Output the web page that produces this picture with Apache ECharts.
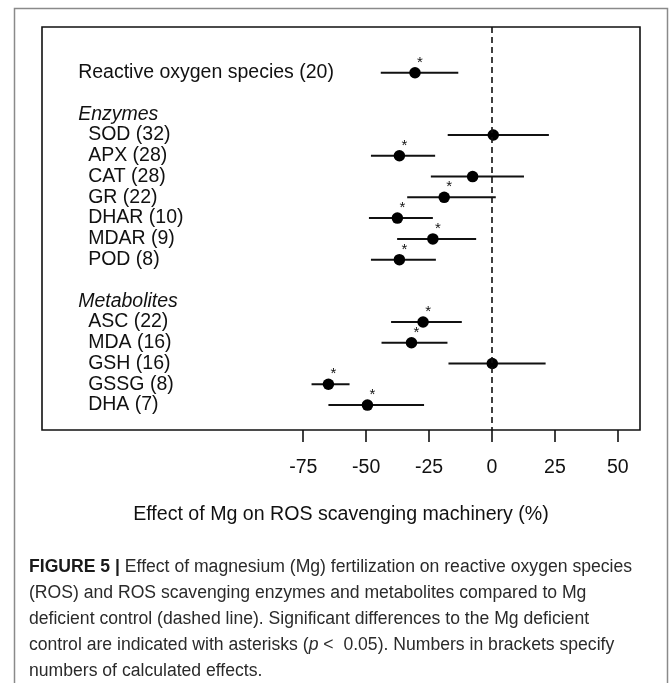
<!DOCTYPE html>
<html><head><meta charset="utf-8">
<script src="https://cdn.jsdelivr.net/npm/echarts@6/dist/echarts.min.js"></script>
<style>html,body{margin:0;padding:0;background:#fff}#c{width:670px;height:683px}</style>
</head><body><div id="c"></div>
<script>
// ---- data ----
const labels = ['Reactive oxygen species (20)', 'SOD (32)', 'APX (28)', 'CAT (28)', 'GR (22)', 'DHAR (10)', 'MDAR (9)', 'POD (8)',
  'ASC (22)', 'MDA (16)', 'GSH (16)', 'GSSG (8)', 'DHA (7)'];
const rows = [0, 3, 4, 5, 6, 7, 8, 9, 12, 13, 14, 15, 16];
const levels = [0, 1, 1, 1, 1, 1, 1, 1, 1, 1, 1, 1, 1];
const estimate = [-30.6, 0.5, -36.8, -7.7, -19.0, -37.6, -23.5, -36.8, -27.4, -32.0, 0.1, -65.0, -49.5];
const lower    = [-44.2, -17.6, -48.1, -24.3, -33.7, -48.9, -37.7, -48.1, -40.1, -43.9, -17.3, -71.7, -65.0];
const upper    = [-13.4, 22.6, -22.6, 12.7, 1.5, -23.5, -6.3, -22.3, -12.0, -17.7, 21.3, -56.6, -27.0];
const significant = [1, 0, 1, 0, 1, 1, 1, 1, 1, 1, 0, 1, 1];
const headers = ['Enzymes', 'Metabolites'];
const headerRows = [2, 11];
const xTicks = [-75, -50, -25, 0, 25, 50];
const xTitle = 'Effect of Mg on ROS scavenging machinery (%)';

const FONT = '"Liberation Sans", Arial, sans-serif';
const LABEL_X = -170;
const CAP = '17.6px ' + FONT;

const chart = echarts.init(document.getElementById('c'), null, {renderer: 'canvas'});

const whiskerData = rows.map((r, i) => [lower[i], upper[i], r]);
const pointData = rows.map((r, i) => [estimate[i], r]);
const starData = rows.map((r, i) => [estimate[i], r, significant[i]]).filter(d => d[2]);
const labelData = rows.map((r, i) => [LABEL_X, r, labels[i], levels[i], 0])
  .concat(headerRows.map((r, i) => [LABEL_X, r, headers[i], 0, 1]));

const option = {
  animation: false,
  backgroundColor: '#fff',
  grid: {left: 42, top: 27, right: 30, bottom: 253, show: true, borderColor: '#111', borderWidth: 1.6, backgroundColor: 'transparent'},
  xAxis: {
    type: 'value', min: -178.8, max: 58.8,
    axisLine: {show: false, onZero: false},
    splitLine: {show: false},
    axisTick: {show: true, customValues: xTicks, length: 12, lineStyle: {color: '#111', width: 1.6}},
    axisLabel: {show: true, customValues: xTicks, margin: 28, fontSize: 19.5, color: '#111', fontFamily: FONT},
    name: xTitle, nameLocation: 'middle', nameGap: 75,
    nameTextStyle: {fontSize: 19.6, color: '#111', fontFamily: FONT}
  },
  yAxis: {type: 'value', inverse: true, min: -2.2, max: 17.2, show: false},
  series: [
    {
      type: 'custom', silent: true, data: whiskerData, z: 2,
      renderItem: (params, api) => {
        const a = api.coord([api.value(0), api.value(2)]);
        const b = api.coord([api.value(1), api.value(2)]);
        return {type: 'line', shape: {x1: a[0], y1: a[1], x2: b[0], y2: b[1]}, style: {stroke: '#111', lineWidth: 2}};
      }
    },
    {
      type: 'scatter', data: pointData, symbol: 'circle', symbolSize: 11.5, z: 3,
      itemStyle: {color: '#000', opacity: 1}, silent: true,
      markLine: {
        silent: true, symbol: 'none', label: {show: false},
        lineStyle: {color: '#111', type: [6, 4], width: 1.6},
        data: [{xAxis: 0}]
      }
    },
    {
      type: 'custom', silent: true, data: starData, z: 4,
      renderItem: (params, api) => {
        const p = api.coord([api.value(0), api.value(1)]);
        return {type: 'text', x: p[0] + 5, y: p[1] - 10, style: {text: '*', fill: '#111', font: '15px ' + FONT, align: 'center', verticalAlign: 'middle'}};
      }
    },
    {
      type: 'custom', silent: true, data: labelData, z: 4,
      renderItem: (params, api) => {
        const p = api.coord([api.value(0), api.value(1)]);
        const lvl = api.value(3);
        const italic = api.value(4) ? 'italic ' : '';
        return {type: 'text', x: p[0] + 14 + lvl * 10, y: p[1], style: {text: labelData[params.dataIndex][2], fill: '#111', font: italic + '19.5px ' + FONT, align: 'left', verticalAlign: 'middle'}};
      }
    }
  ],
  graphic: [
    {type: 'rect', shape: {x: 14.5, y: 8.5, width: 653, height: 720}, style: {fill: 'none', stroke: '#8a8a8a', lineWidth: 1.5}, silent: true},
    {type: 'text', left: 29, top: 558, style: {
      text: '{b|FIGURE 5 |} Effect of magnesium (Mg) fertilization on reactive oxygen species',
      font: CAP, fill: '#2a2a2a',
      rich: {b: {fontWeight: 'bold', fontSize: 17.6, fontFamily: FONT, fill: '#1a1a1a'}}
    }},
    {type: 'text', left: 29, top: 584, style: {text: '(ROS) and ROS scavenging enzymes and metabolites compared to Mg', font: CAP, fill: '#2a2a2a'}},
    {type: 'text', left: 29, top: 610, style: {text: 'deficient control (dashed line). Significant differences to the Mg deficient', font: CAP, fill: '#2a2a2a'}},
    {type: 'text', left: 29, top: 636, style: {
      text: 'control are indicated with asterisks ({i|p} <  0.05). Numbers in brackets specify',
      font: CAP, fill: '#2a2a2a',
      rich: {i: {fontStyle: 'italic', fontSize: 17.6, fontFamily: FONT, fill: '#2a2a2a'}}
    }},
    {type: 'text', left: 29, top: 662, style: {text: 'numbers of calculated effects.', font: CAP, fill: '#2a2a2a'}}
  ]
};
chart.setOption(option);
</script></body></html>
